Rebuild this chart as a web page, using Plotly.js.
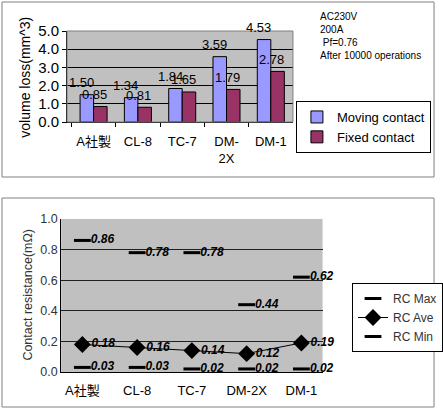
<!DOCTYPE html>
<html><head><meta charset="utf-8">
<script src="https://cdn.plot.ly/plotly-3.0.1.min.js"></script>
<style>html,body{margin:0;padding:0;background:#fff}#chart{width:443px;height:409px}</style>
</head><body><div id="chart"></div>
<script>
const categories = ['A社製', 'CL-8', 'TC-7', 'DM-2X', 'DM-1'];
const topTickLabels = ['A社製', 'CL-8', 'TC-7', 'DM-<br>2X', 'DM-1'];
const movingContact = [1.50, 1.34, 1.84, 3.59, 4.53];
const fixedContact = [0.85, 0.81, 1.65, 1.79, 2.78];
const rcMax = [0.86, 0.78, 0.78, 0.44, 0.62];
const rcAve = [0.18, 0.16, 0.14, 0.12, 0.19];
const rcMin = [0.03, 0.03, 0.02, 0.02, 0.02];
const conditions = ['AC230V', '200A', '&nbsp;Pf=0.76', 'After 10000 operations'];
const topYTitle = 'volume loss(mm^3)';
const bottomYTitle = 'Contact resistance(mΩ)';

const W = 443, H = 409;
const px = v => v / W, py = v => 1 - v / H;
const FONT = 'Liberation Sans, Arial, Noto Sans CJK JP, sans-serif';

const traces = [
  {type: 'bar', name: 'Moving contact', x: categories, y: movingContact, xaxis: 'x', yaxis: 'y',
   marker: {color: '#9999ff', line: {color: '#000', width: 1}}, legend: 'legend'},
  {type: 'bar', name: 'Fixed contact', x: categories, y: fixedContact, xaxis: 'x', yaxis: 'y',
   marker: {color: '#993366', line: {color: '#000', width: 1}}, legend: 'legend'},
  {type: 'scatter', mode: 'markers+text', name: 'RC Max', x: categories, y: rcMax, xaxis: 'x2', yaxis: 'y2',
   marker: {symbol: 'line-ew', size: 12, line: {color: '#000', width: 3}, color: '#000'},
   text: rcMax.map(v => v.toFixed(2)), textposition: 'middle right',
   textfont: {family: FONT, size: 12, color: '#000', weight: 'bold', style: 'italic'}, cliponaxis: false, legend: 'legend2'},
  {type: 'scatter', mode: 'lines+markers+text', name: 'RC Ave', x: categories, y: rcAve, xaxis: 'x2', yaxis: 'y2',
   line: {color: '#000', width: 1}, marker: {symbol: 'diamond', size: 13, color: '#000'},
   text: rcAve.map(v => v.toFixed(2)), textposition: 'middle right',
   textfont: {family: FONT, size: 12, color: '#000', weight: 'bold', style: 'italic'}, cliponaxis: false, legend: 'legend2'},
  {type: 'scatter', mode: 'markers+text', name: 'RC Min', x: categories, y: rcMin, xaxis: 'x2', yaxis: 'y2',
   marker: {symbol: 'line-ew', size: 12, line: {color: '#000', width: 3}, color: '#000'},
   text: rcMin.map(v => v.toFixed(2)), textposition: 'middle right',
   textfont: {family: FONT, size: 12, color: '#000', weight: 'bold', style: 'italic'}, cliponaxis: false, legend: 'legend2'}
];

const annotations = [];
categories.forEach((c, i) => {
  annotations.push({xref: 'x', yref: 'y', x: c, y: movingContact[i], text: movingContact[i].toFixed(2),
    showarrow: false, xshift: -12, yshift: 12, font: {family: FONT, size: 13, color: '#000'}});
  annotations.push({xref: 'x', yref: 'y', x: c, y: fixedContact[i], text: fixedContact[i].toFixed(2),
    showarrow: false, xshift: 1, yshift: 12, font: {family: FONT, size: 13, color: '#000'}});
});
annotations.push({xref: 'paper', yref: 'paper', x: px(322), y: py(9), xanchor: 'left', yanchor: 'top', align: 'left',
  text: conditions.join('<br>'), showarrow: false, font: {family: FONT, size: 10, color: '#000'}});
annotations.push({xref: 'paper', yref: 'paper', x: px(25), y: py(77), xanchor: 'center', yanchor: 'middle',
  textangle: -90, text: topYTitle, showarrow: false, font: {family: FONT, size: 14, color: '#000'}});
annotations.push({xref: 'paper', yref: 'paper', x: px(28), y: py(295), xanchor: 'center', yanchor: 'middle',
  textangle: -90, text: bottomYTitle, showarrow: false, font: {family: FONT, size: 12.5, color: '#333'}});

const layout = {
  width: W, height: H, margin: {l: 0, r: 0, t: 0, b: 0}, paper_bgcolor: '#fff', plot_bgcolor: '#c0c0c0',
  font: {family: FONT, color: '#000'},
  barmode: 'group', bargap: 0.39, bargroupgap: 0,
  xaxis: {domain: [px(68), px(297)], type: 'category', tickvals: categories, ticktext: topTickLabels,
    tickangle: 0, ticklabelstandoff: 7,
    showline: true, linecolor: '#000', linewidth: 1, mirror: false, ticks: 'outside', tickson: 'boundaries', ticklen: 4,
    tickcolor: '#000', tickfont: {size: 13}, showgrid: false, fixedrange: true, anchor: 'y'},
  yaxis: {domain: [py(122), py(31)], range: [0, 5], dtick: 1, tickformat: '.1f', showgrid: true, gridcolor: '#000',
    gridwidth: 1, showline: true, linecolor: '#000', ticks: 'outside', ticklen: 4, tickcolor: '#000',
    tickfont: {size: 15}, zeroline: false, anchor: 'x'},
  xaxis2: {domain: [px(62), px(327)], type: 'category', anchor: 'y2', showline: true, linecolor: '#000',
    showgrid: false, ticks: '', tickangle: 0, ticklabelstandoff: 6, tickfont: {size: 13}},
  yaxis2: {domain: [py(372), py(219)], range: [0, 1], dtick: 0.2, tickformat: '.1f', anchor: 'x2',
    showgrid: true, gridcolor: '#202020', gridwidth: 1, showline: true, linecolor: '#000', zeroline: false,
    ticks: '', tickfont: {size: 12.5, color: '#333'}},
  legend: {x: px(300), y: py(101), xanchor: 'left', yanchor: 'top', bgcolor: '#fff', bordercolor: '#000',
    borderwidth: 1, font: {size: 13}, itemwidth: 30, tracegroupgap: 0},
  legend2: {x: px(357), y: py(283), xanchor: 'left', yanchor: 'top', bgcolor: '#fff', bordercolor: '#000',
    borderwidth: 1, font: {size: 12, color: '#333'}, itemwidth: 30},
  showlegend: true,
  annotations: annotations,
  shapes: [
    {type: 'rect', xref: 'paper', yref: 'paper', x0: px(2), x1: px(440), y0: py(177), y1: py(2),
      line: {color: '#808080', width: 1}, layer: 'below'},
    {type: 'rect', xref: 'paper', yref: 'paper', x0: px(2), x1: px(440), y0: py(407), y1: py(198),
      line: {color: '#808080', width: 1}, layer: 'below'},
    {type: 'rect', xref: 'paper', yref: 'paper', x0: px(68), x1: px(297), y0: py(122), y1: py(31),
      line: {color: '#808080', width: 1}, layer: 'above'}
  ]
};
Plotly.newPlot('chart', traces, layout, {staticPlot: true, displayModeBar: false});
</script></body></html>
